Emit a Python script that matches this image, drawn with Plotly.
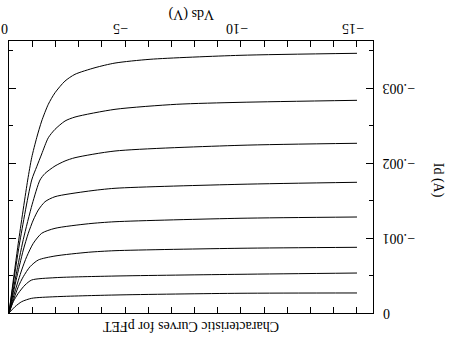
import plotly.graph_objects as go

# Vds (V) and Id (A), one pair of lists per curve
vds_1 = [0, -0.4, -0.806, -0.978, -1.194, -1.409, -1.694, -1.983, -2.414, -2.845, -3.707, -4.569, -6.08, -9.957, -15]
id_1 = [0, -0.00093, -0.001773, -0.002071, -0.002337, -0.00256, -0.002783, -0.002937, -0.003093, -0.003183, -0.003271, -0.003333, -0.003383, -0.003436, -0.003463]

vds_2 = [0, -0.45, -0.978, -1.194, -1.409, -1.694, -1.983, -2.414, -2.845, -4.569, -7.23, -9.957, -15]
id_2 = [0, -0.00092, -0.001773, -0.00195, -0.00212, -0.002337, -0.002449, -0.00256, -0.002613, -0.002716, -0.002783, -0.002809, -0.002836]

vds_3 = [0, -0.3, -0.616, -1.0, -1.336, -1.55, -1.983, -2.414, -2.845, -4.569, -9.957, -15]
id_3 = [0, -0.0005, -0.00098, -0.00145, -0.001773, -0.00186, -0.00196, -0.002027, -0.002071, -0.00216, -0.002236, -0.002263]

vds_4 = [0, -0.3, -0.616, -0.832, -1.047, -1.263, -1.552, -1.983, -3.42, -4.569, -9.957, -15]
id_4 = [0, -0.00043, -0.00084, -0.001063, -0.00124, -0.001373, -0.001484, -0.001551, -0.001625, -0.001663, -0.001716, -0.001743]

vds_5 = [0, -0.25, -0.547, -0.763, -1.047, -1.409, -1.983, -3.42, -4.569, -9.957, -15]
id_5 = [0, -0.00028, -0.000573, -0.000751, -0.000929, -0.001063, -0.001129, -0.00119, -0.001217, -0.001263, -0.00128]

vds_6 = [0, -0.401, -0.616, -0.905, -1.263, -1.983, -3.42, -4.569, -9.957, -15]
id_6 = [0, -0.000351, -0.000484, -0.000617, -0.000707, -0.00076, -0.00081, -0.000831, -0.000863, -0.000876]

vds_7 = [0, -0.185, -0.401, -0.69, -0.978, -1.983, -4.569, -9.957, -15]
id_7 = [0, -0.000151, -0.000263, -0.000373, -0.00044, -0.000471, -0.000493, -0.000516, -0.000533]

vds_8 = [0, -0.259, -0.547, -0.978, -1.983, -4.569, -9.957, -15]
id_8 = [0, -0.000084, -0.000151, -0.000196, -0.000217, -0.00024, -0.000263, -0.000267]

x_tickvals = [0, -5, -10, -15]
x_ticktext = ["0", "\u22125", "\u221210", "\u221215"]
x_minor = [-1, -2, -3, -4, -6, -7, -8, -9, -11, -12, -13, -14]
y_tickvals = [0, -0.001, -0.002, -0.003]
y_ticktext = ["0", "\u2212.001", "\u2212.002", "\u2212.003"]
y_minor = [-0.0005, -0.0015, -0.0025, -0.0035]

title_text = "Characteristic Curves for pFET"
x_title = "Vds (V)"
y_title = "Id (A)"

FONT = "Liberation Serif"
FS = 14

fig = go.Figure()
for xs, ys in [(vds_1, id_1), (vds_2, id_2), (vds_3, id_3), (vds_4, id_4),
               (vds_5, id_5), (vds_6, id_6), (vds_7, id_7), (vds_8, id_8)]:
    fig.add_trace(go.Scatter(x=xs, y=ys, mode="lines",
                             line=dict(color="black", width=1,
                                       shape="spline", smoothing=0.7),
                             showlegend=False, hoverinfo="skip"))

annotations = []
# upside-down tick labels placed at the axes' own tick values
for v, t in zip(x_tickvals, x_ticktext):
    annotations.append(dict(text=t, x=v, y=1, xref="x", yref="paper",
                            xanchor="center", yanchor="middle",
                            xshift=-4, yshift=12, showarrow=False,
                            textangle=180, font=dict(family=FONT, size=FS)))
for v, t in zip(y_tickvals, y_ticktext):
    annotations.append(dict(text=t, x=1, y=v, xref="paper", yref="y",
                            xanchor="left", yanchor="middle",
                            xshift=8, yshift=-1, showarrow=False,
                            textangle=180, font=dict(family=FONT, size=FS)))
annotations += [
    dict(text=title_text, x=0.5, y=0, xref="paper", yref="paper",
         xanchor="center", yanchor="middle", yshift=-14, showarrow=False,
         textangle=180, font=dict(family=FONT, size=FS)),
    dict(text=x_title, x=0.5, y=1, xref="paper", yref="paper",
         xanchor="center", yanchor="middle", yshift=27, showarrow=False,
         textangle=180, font=dict(family=FONT, size=FS)),
    dict(text=y_title, x=1, y=0.49, xref="paper", yref="paper",
         xanchor="center", yanchor="middle", xshift=65, showarrow=False,
         textangle=90, font=dict(family=FONT, size=FS)),
]

fig.update_layout(
    width=452, height=341,
    margin=dict(l=9, r=79, t=41, b=28),
    paper_bgcolor="white", plot_bgcolor="white",
    font=dict(family=FONT, size=FS, color="black"),
    xaxis=dict(
        range=[0, -15.69], side="top", showgrid=False, zeroline=False,
        showline=True, linecolor="black", linewidth=1, mirror="ticks",
        ticks="inside", ticklen=6, tickwidth=1, tickcolor="black",
        tickmode="array", tickvals=x_tickvals, showticklabels=False,
        minor=dict(tickmode="array", tickvals=x_minor, ticks="inside",
                   ticklen=6, tickwidth=1, tickcolor="black", showgrid=False),
    ),
    yaxis=dict(
        range=[0, -0.003627], side="right", showgrid=False, zeroline=False,
        showline=True, linecolor="black", linewidth=1, mirror="ticks",
        ticks="inside", ticklen=7, tickwidth=1, tickcolor="black",
        tickmode="array", tickvals=y_tickvals, showticklabels=False,
        minor=dict(tickmode="array", tickvals=y_minor, ticks="inside",
                   ticklen=4, tickwidth=1, tickcolor="black", showgrid=False),
    ),
    annotations=annotations,
)

fig.write_html("out.html")
